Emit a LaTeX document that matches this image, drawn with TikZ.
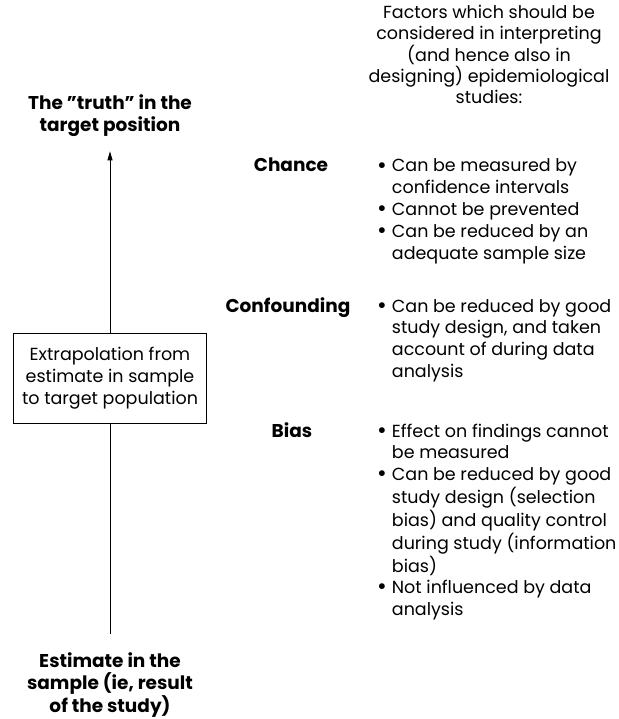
\documentclass[tikz,border=0pt]{standalone}
\usepackage{fontspec}
\setmainfont{Poppins}
\usetikzlibrary{arrows.meta,positioning}

\tikzset{
  body/.style={font=\fontsize{17.5}{21.8}\selectfont, inner sep=0pt},
  heading/.style={body, font=\fontsize{18.5}{22.5}\selectfont\bfseries, align=center, anchor=base},
  factorname/.style={heading},
  itemlist/.style={body, anchor=base west},
  extrapbox/.style={body, draw, line width=1pt, minimum width=193, minimum height=90, align=center},
  link/.style={line width=0.8pt},
}
\newcommand{\itemrows}[1]{\begin{tabular}[t]{@{}l@{\hspace{5pt}}l@{}}#1\end{tabular}}
\newcommand{\dotmark}{\raisebox{-0.06em}{\scalebox{1.35}{\textbullet}}}

\begin{document}
\begin{tikzpicture}[x=1pt, y=-1pt]
\useasboundingbox (0,0) rectangle (618,719);

% left column (base = last line)
\node[heading] (truth) at (110,132) {The "truth" in the\\target position};
\node[extrapbox] (extrap) at (110,378) {Extrapolation from\\estimate in sample\\to target population};
\node[heading] (estimate) at (110,712) {Estimate in the\\sample (ie, result\\of the study)};

\draw[link, shorten <=18pt] (estimate.north) -- (extrap.south);
\draw[link, -{Triangle[length=9pt,width=5pt]}, shorten >=14pt] (extrap.north) -- (truth.south);

% right column
\node[body, font=\fontsize{17.5}{21}\selectfont, align=center, anchor=base] (intro) at (489,104) {Factors which should be\\considered in interpreting\\(and hence also in\\designing) epidemiological\\studies:};

\node[factorname] (chance) at (291,172) {Chance};
\node[itemlist] (chance items) at (377,172) {\itemrows{%
  \dotmark & Can be measured by\\
           & confidence intervals\\
  \dotmark & Cannot be prevented\\
  \dotmark & Can be reduced by an\\
           & adequate sample size}};

\node[factorname] (confounding) at (288,312) {Confounding};
\node[itemlist] (confounding items) at (377,312) {\itemrows{%
  \dotmark & Can be reduced by good\\
           & study design, and taken\\
           & account of during data\\
           & analysis}};

\node[factorname] (bias) at (292,437) {Bias};
\node[itemlist] (bias items) at (377,437) {\itemrows{%
  \dotmark & Effect on findings cannot\\
           & be measured\\
  \dotmark & Can be reduced by good\\
           & study design (selection\\
           & bias) and quality control\\
           & during study (information\\
           & bias)\\
  \dotmark & Not influenced by data\\
           & analysis}};

\end{tikzpicture}
\end{document}
